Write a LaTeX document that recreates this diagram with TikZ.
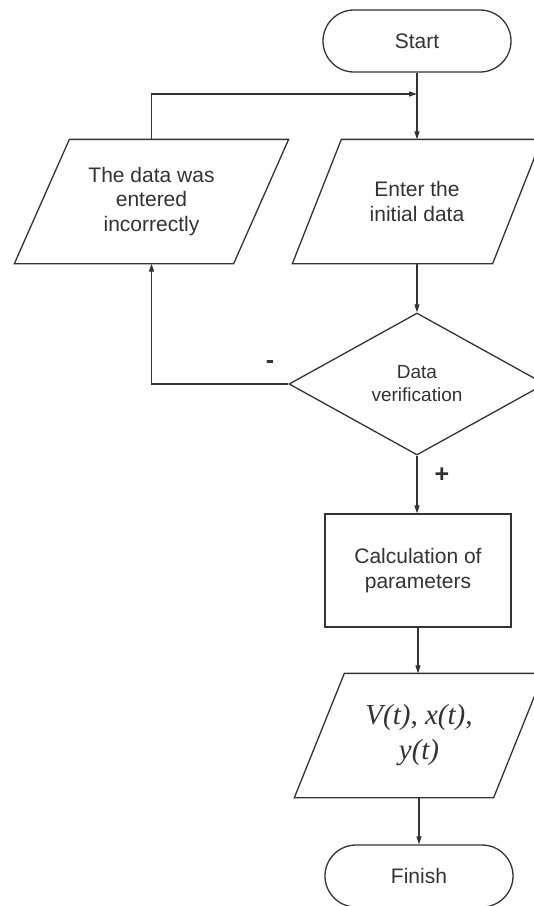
\documentclass[tikz,border=0pt]{standalone}
\usepackage{fontspec}
\setmainfont{Liberation Sans}
\newfontfamily\serifit{Liberation Serif}
\usetikzlibrary{shapes.geometric,arrows.meta}
\definecolor{ink}{HTML}{333333}
\begin{document}
\begin{tikzpicture}[x=1pt,y=-1pt,
  every node/.style={text=ink},
  base/.style={draw=ink, line width=1.3pt, font=\fontsize{21}{24.5}\selectfont, align=center, inner sep=0pt},
  term/.style={base, rectangle, rounded corners=31pt, minimum width=188pt, minimum height=62pt},
  iobox/.style={base, draw=none, rectangle, minimum height=123pt},
  para/.style={draw=ink, line width=1.3pt, line join=miter},
  proc/.style={base, rectangle, minimum width=186pt, minimum height=113pt},
  dec/.style={base, diamond, aspect=1.8, minimum width=256pt, minimum height=142pt, font=\fontsize{19}{23}\selectfont},
  arr/.style={draw=ink, line width=1.1pt, -{Triangle[length=8pt,width=5pt]}},
  lbl/.style={font=\fontsize{25}{27}\selectfont\bfseries}
]
\useasboundingbox (0,0) rectangle (534,906);
\clip (0,0) rectangle (534,906);
\fill[white] (0,0) rectangle (534,906);
\node[term] (start) at (417,41) {Start};
\node[iobox, minimum width=248pt] (enter) at (417,201.5) {Enter the\\initial data};
\draw[para] ([xshift=49pt]enter.north west) -- (enter.north east) -- ([xshift=-49pt]enter.south east) -- (enter.south west) -- cycle;
\node[iobox, minimum width=273pt] (err) at (151.5,201.5) {The data was\\entered\\incorrectly};
\draw[para] ([xshift=55pt]err.north west) -- (err.north east) -- ([xshift=-55pt]err.south east) -- (err.south west) -- cycle;
\node[dec] (ver) at (417,384) {Data\\verification};
\node[proc] (calc) at (418,570.5) {Calculation of\\parameters};
\node[iobox, minimum width=248pt, font=\serifit\itshape\fontsize{29}{35}\selectfont] (out) at (419,735.5) {V(t), x(t),\\y(t)};
\draw[para] ([xshift=50pt]out.north west) -- (out.north east) -- ([xshift=-50pt]out.south east) -- (out.south west) -- cycle;
\node[term] (fin) at (419,876) {Finish};
\coordinate (j) at (417,94);
\draw[arr] (start) -- (enter);
\draw[arr] (enter) -- (ver);
\draw[arr] (ver.south) -- (ver.south |- calc.north);
\draw[arr] (calc.south) -- (calc.south |- out.north);
\draw[arr] (out) -- (fin);
\draw[arr] (ver.west) -| (err.south);
\draw[arr] (err.north) |- (j);
\node[lbl] (minus) at (270,365) {-};
\node[lbl] (plus) at (442,475) {+};
\end{tikzpicture}
\end{document}
